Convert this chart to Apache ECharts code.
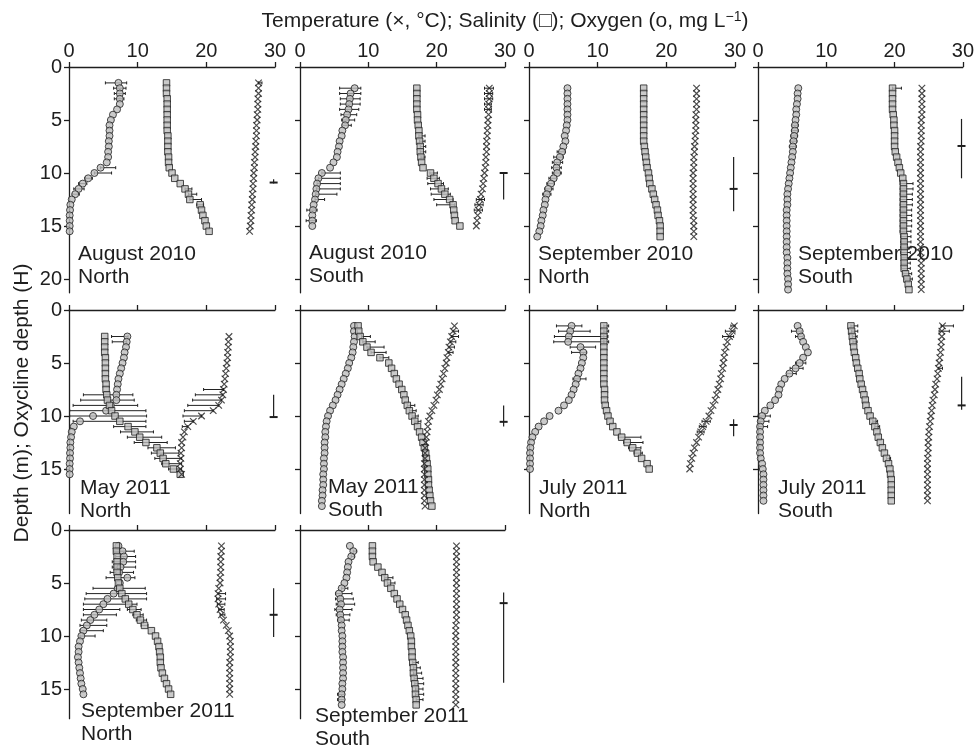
<!DOCTYPE html>
<html><head><meta charset="utf-8">
<script src="https://cdn.jsdelivr.net/npm/echarts@6/dist/echarts.min.js"></script>
<style>html,body{margin:0;padding:0;background:#fff}#c{width:977px;height:749px}</style>
</head><body><div id="c"></div>
<script>
// ---------- depth grids (m) ----------
const depth_15_155 = [1.5,2,2.5,3,3.5,4,4.5,5,5.5,6,6.5,7,7.5,8,8.5,9,9.5,10,10.5,11,11.5,12,12.5,13,13.5,14,14.5,15,15.5];
const depth_2_15 = [2,2.5,3,3.5,4,4.5,5,5.5,6,6.5,7,7.5,8,8.5,9,9.5,10,10.5,11,11.5,12,12.5,13,13.5,14,14.5,15];
const depth_2_16 = [2,2.5,3,3.5,4,4.5,5,5.5,6,6.5,7,7.5,8,8.5,9,9.5,10,10.5,11,11.5,12,12.5,13,13.5,14,14.5,15,15.5,16];
const depth_2_21 = [2,2.5,3,3.5,4,4.5,5,5.5,6,6.5,7,7.5,8,8.5,9,9.5,10,10.5,11,11.5,12,12.5,13,13.5,14,14.5,15,15.5,16,16.5,17,17.5,18,18.5,19,19.5,20,20.5,21];
const depth_25_155 = [2.5,3,3.5,4,4.5,5,5.5,6,6.5,7,7.5,8,8.5,9,9.5,10,10.5,11,11.5,12,12.5,13,13.5,14,14.5,15,15.5];
const depth_15_185 = [1.5,2,2.5,3,3.5,4,4.5,5,5.5,6,6.5,7,7.5,8,8.5,9,9.5,10,10.5,11,11.5,12,12.5,13,13.5,14,14.5,15,15.5,16,16.5,17,17.5,18,18.5];
const depth_15_15 = [1.5,2,2.5,3,3.5,4,4.5,5,5.5,6,6.5,7,7.5,8,8.5,9,9.5,10,10.5,11,11.5,12,12.5,13,13.5,14,14.5,15];
const depth_15_18 = [1.5,2,2.5,3,3.5,4,4.5,5,5.5,6,6.5,7,7.5,8,8.5,9,9.5,10,10.5,11,11.5,12,12.5,13,13.5,14,14.5,15,15.5,16,16.5,17,17.5,18];
const depth_15_165 = [1.5,2,2.5,3,3.5,4,4.5,5,5.5,6,6.5,7,7.5,8,8.5,9,9.5,10,10.5,11,11.5,12,12.5,13,13.5,14,14.5,15,15.5,16,16.5];

// ---------- Panel 1: August 2010 North ----------
const oxy1 = [7.2,7.4,7.4,7.4,7.4,7.0,6.4,6.1,5.9,5.9,5.9,5.8,5.8,5.7,5.7,5.5,4.6,3.7,2.8,2.0,1.4,0.9,0.4,0.2,0.15,0.1,0.1,0.1,0.1];
const sal1 = [14.2,14.2,14.2,14.3,14.3,14.3,14.3,14.3,14.3,14.3,14.4,14.4,14.4,14.4,14.5,14.5,14.6,15.0,15.4,16.2,16.9,17.4,17.6,19.1,19.3,19.5,19.8,20.0,20.4];
const tem1 = [27.6,27.6,27.6,27.5,27.5,27.5,27.4,27.4,27.3,27.3,27.3,27.2,27.2,27.1,27.1,27.0,27.0,26.9,26.9,26.8,26.8,26.7,26.7,26.6,26.6,26.5,26.5,26.4,26.3];
const err1 = [[1.5,5.3,8.4],[2,6.5,8.3],[2.5,6.6,8.2],[3,6.6,8.0],[9.5,4.6,6.8],[10,3.7,6.2],[10.5,2.3,3.4],[11,1.4,2.6],[11.5,0.7,2.2],[12,0.5,1.5],[11.5,16.9,17.9],[12,17.4,18.6],[12.5,17.6,19.3],[13,18.6,19.6],[1.5,27.6,28.1]];

// ---------- Panel 2: August 2010 South ----------
const oxy2 = [8.0,7.4,7.3,7.2,7.1,6.9,6.7,6.6,6.2,6.1,5.8,5.7,5.5,5.4,4.9,4.4,3.2,2.7,2.5,2.4,2.3,2.2,2.0,1.9,1.8,1.8,1.8];
const sal2 = [17.1,17.1,17.1,17.1,17.1,17.2,17.2,17.3,17.4,17.4,17.5,17.6,17.6,17.7,17.8,18.0,19.1,19.6,20.2,20.7,21.2,21.9,22.4,22.5,22.6,22.7,23.4];
const tem2 = [27.7,27.7,27.7,27.6,27.6,27.6,27.5,27.5,27.4,27.4,27.3,27.3,27.3,27.2,27.2,27.1,27.0,26.9,26.8,26.7,26.5,26.4,26.2,26.1,26.0,25.9,25.8];
const err2 = [[2,5.8,8.9],[2.5,5.8,8.9],[3,5.9,8.8],[3.5,5.9,8.8],[4,5.8,8.6],[4.5,6.0,8.3],[5,6.1,8.0],[5.5,6.2,7.5],[10,3.2,5.9],[10.5,2.7,5.9],[11,2.5,5.9],[11.5,2.4,5.9],[12,2.3,5.4],[12.5,2.2,3.6],[13.5,1.0,2.5],[14.5,0.9,2.4],[6.5,17.4,18.3],[7,17.5,18.3],[7.5,17.6,18.4],[8,17.6,18.4],[8.5,17.7,18.3],[10,19.0,20.1],[10.5,18.6,20.4],[11,18.7,21.0],[11.5,19.1,21.7],[12,19.2,22.0],[12.5,19.6,22.4],[13,20.0,22.6],[2,27.0,28.3],[2.5,27.0,28.2],[3,27.0,28.2],[3.5,27.0,28.0],[4,27.0,28.0],[12.5,25.8,27.0],[13,25.6,26.8],[13.5,25.5,26.7]];

// ---------- Panel 3: September 2010 North ----------
const oxy3 = [5.6,5.6,5.6,5.6,5.6,5.6,5.6,5.5,5.4,5.2,5.3,5.0,4.8,4.5,4.1,4.0,4.1,3.6,3.2,2.8,2.6,2.4,2.3,2.1,2.0,1.8,1.7,1.5,1.2];
const sal3 = [16.7,16.7,16.7,16.7,16.7,16.7,16.7,16.7,16.7,16.7,16.7,16.8,16.9,17.0,17.1,17.2,17.4,17.5,17.6,17.9,18.1,18.3,18.5,18.7,18.8,19.0,19.1,19.1,19.1];
const tem3 = [24.4,24.4,24.4,24.4,24.4,24.3,24.3,24.3,24.3,24.2,24.2,24.1,24.1,24.0,24.0,24.0,23.9,23.9,23.9,23.9,23.9,23.9,23.9,23.9,23.9,24.0,24.0,24.0,24.0];
const err3 = [[8,4.1,5.3],[8.5,3.6,5.0],[9,3.4,4.9],[9.5,3.3,4.7],[10,3.4,4.7],[10.5,2.9,4.0],[11,2.6,3.7],[11.5,2.3,3.5],[12,2.0,3.2]];

// ---------- Panel 4: September 2010 South ----------
const oxy4 = [5.9,5.8,5.8,5.7,5.6,5.6,5.5,5.4,5.4,5.3,5.2,5.1,5.1,5.0,4.9,4.8,4.7,4.6,4.5,4.4,4.3,4.3,4.3,4.2,4.2,4.2,4.2,4.2,4.2,4.2,4.2,4.2,4.3,4.3,4.3,4.3,4.4,4.4,4.4];
const sal4 = [19.7,19.7,19.7,19.7,19.7,19.8,19.9,19.9,20.0,20.0,20.0,20.0,20.1,20.3,20.5,20.7,20.9,21.2,21.3,21.3,21.3,21.3,21.3,21.3,21.3,21.3,21.3,21.3,21.4,21.4,21.4,21.4,21.4,21.4,21.4,21.6,21.8,22.0,22.1];
const tem4 = [24.0,24.0,24.0,24.0,24.0,24.0,23.9,23.9,23.9,23.9,23.9,23.8,23.8,23.8,23.8,23.8,23.8,23.8,23.8,23.8,23.8,23.8,23.8,23.8,23.8,23.8,23.8,23.8,23.8,23.8,23.8,23.8,23.9,23.9,23.9,23.9,23.9,23.9,23.9];
const err4 = [[2,19.7,21.0],[11,20.8,22.7],[11.5,20.8,22.7],[12,20.8,22.6],[12.5,20.8,22.6],[13,20.8,22.6],[13.5,20.8,22.5],[14,20.8,22.5],[14.5,20.8,22.5],[15,20.8,22.5],[15.5,20.8,22.4],[16,20.9,22.4],[16.5,20.9,22.4],[17,20.9,22.4],[17.5,20.9,22.3],[18,21.0,22.3],[18.5,21.0,22.3],[19,21.0,22.3],[19.5,21.2,22.5],[20,21.4,22.6],[5.5,5.0,5.9],[6,4.9,5.9],[6.5,4.8,5.8],[7,4.7,5.7],[7.5,4.6,5.6]];

// ---------- Panel 5: May 2011 North ----------
const oxy5 = [8.5,8.4,8.3,8.1,8.0,7.8,7.6,7.4,7.2,7.1,7.0,6.9,6.9,6.1,5.4,3.5,1.6,0.7,0.4,0.3,0.2,0.2,0.15,0.15,0.1,0.1,0.1];
const sal5 = [5.2,5.2,5.2,5.2,5.3,5.3,5.3,5.3,5.3,5.4,5.4,5.5,5.6,5.9,6.2,6.7,7.4,8.6,9.6,10.3,11.2,12.8,13.3,13.7,14.1,15.2,16.2];
const tem5 = [23.3,23.2,23.2,23.1,23.1,23.0,22.9,22.8,22.7,22.6,22.5,22.4,22.2,21.8,21.0,19.3,18.1,17.3,16.8,16.6,16.4,16.4,16.3,16.3,16.2,16.2,16.4];
const err5 = [[2.5,6.2,8.6],[3,6.3,8.4],[8,2.1,9.3],[8.5,1.7,9.5],[9,0.6,10.0],[9.5,0.1,11.2],[10,0.1,11.3],[10.5,0.6,11.2],[11,6.5,11.2],[11.5,7.5,12.3],[12,8.5,13.5],[12.5,9.5,14.3],[13,11.5,15.5],[13.5,12.0,16.0],[14,12.5,16.4],[14.5,13.5,16.4],[15,14.5,16.4],[7.5,19.6,22.5],[8,18.4,22.4],[8.5,18.0,22.2],[9,17.3,21.8],[9.5,16.8,21.0],[10,16.6,19.3],[10.5,16.8,18.1],[11,16.5,17.3]];

// ---------- Panel 6: May 2011 South ----------
const oxy6 = [7.9,7.9,8.0,7.9,7.8,7.7,7.5,7.2,7.0,6.7,6.4,6.1,5.8,5.5,5.2,4.8,4.4,4.1,3.9,3.8,3.7,3.7,3.6,3.6,3.6,3.5,3.5,3.5,3.4,3.4,3.4,3.3,3.3,3.2,3.2];
const sal6 = [8.5,8.6,8.8,9.2,9.8,10.4,11.7,13.0,13.4,13.8,14.1,14.5,14.9,15.2,15.4,15.7,16.0,16.4,16.8,17.2,17.5,17.8,18.0,18.2,18.4,18.5,18.6,18.7,18.7,18.8,18.8,18.9,19.0,19.1,19.3];
const tem6 = [22.6,22.4,22.2,22.0,21.8,21.7,21.5,21.4,21.2,21.0,20.8,20.6,20.4,20.1,19.9,19.6,19.3,19.0,18.8,18.7,18.6,18.5,18.4,18.3,18.3,18.3,18.2,18.2,18.2,18.2,18.2,18.2,18.2,18.2,18.3];
const err6 = [[2.5,9.0,10.3],[3,9.2,11.0],[3.5,9.8,12.3],[4,10.4,12.6],[4.5,11.7,13.0],[9,15.7,16.8],[9.5,16.0,17.0],[10,16.4,17.3],[10.5,16.8,17.7],[2,22.4,23.2],[2.5,22.2,23.2],[3,22.0,22.8],[3.5,21.8,22.6],[4,21.7,22.4]];

// ---------- Panel 7: July 2011 North ----------
const oxy7 = [6.2,6.0,5.8,5.7,7.5,7.9,7.9,7.7,7.5,7.2,7.0,6.8,6.5,6.2,5.8,5.1,4.3,3.0,2.2,1.4,0.9,0.5,0.3,0.2,0.15,0.15,0.15,0.15];
const sal7 = [10.9,10.9,10.9,10.9,10.9,10.9,10.9,10.9,10.9,10.9,10.9,10.9,11.0,11.0,11.0,11.1,11.3,11.5,11.8,12.2,12.8,13.5,14.3,15.1,15.8,16.4,17.2,17.5];
const tem7 = [29.9,29.6,29.2,28.9,28.7,28.5,28.4,28.3,28.2,28.0,27.9,27.7,27.5,27.3,27.1,26.8,26.5,26.2,25.8,25.3,25.0,24.7,24.4,24.1,23.9,23.7,23.5,23.4];
const err7 = [[1.5,4.0,7.7],[2,4.3,8.9],[2.5,3.7,11.4],[3,3.6,10.9],[3.5,6.0,9.7],[4,6.2,8.4],[6.5,6.4,8.3],[1.5,10.9,11.6],[2,10.9,11.6],[2.5,10.9,11.5],[3,10.9,11.6],[12,13.0,16.3],[12.5,13.8,16.6],[13,14.5,16.3],[13.5,15.3,16.5],[1.5,29.4,30.0],[2,28.6,30.0],[2.5,28.2,29.8],[10.5,25.2,26.4],[11,24.8,25.8],[11.5,24.5,25.5]];

// ---------- Panel 8: July 2011 South ----------
const oxy8 = [5.8,6.1,6.3,6.6,7.0,7.3,6.6,6.1,5.5,4.6,3.9,3.4,3.1,3.0,2.5,1.8,1.0,0.6,0.4,0.3,0.3,0.3,0.3,0.3,0.3,0.4,0.6,0.7,0.8,0.8,0.8,0.8,0.8,0.8];
const sal8 = [13.6,13.7,13.8,13.9,14.0,14.1,14.3,14.4,14.6,14.8,14.9,15.1,15.3,15.5,15.7,15.8,16.1,16.4,16.8,17.1,17.4,17.6,17.9,18.2,18.5,18.8,19.1,19.3,19.4,19.5,19.5,19.5,19.5,19.5];
const tem8 = [27.0,26.9,26.9,26.8,26.8,26.7,26.6,26.5,26.4,26.3,26.2,26.0,25.9,25.8,25.6,25.5,25.4,25.3,25.2,25.1,25.0,25.0,24.9,24.9,24.9,24.8,24.8,24.8,24.8,24.8,24.8,24.8,24.8,24.8];
const err8 = [[2,4.9,6.4],[2.5,5.5,6.6],[5,5.5,7.0],[5.5,4.7,6.6],[6,4.2,5.6],[10,0.0,1.8],[10.5,0.0,1.6],[11,0.0,1.4],[1.5,13.6,14.6],[2,13.7,14.6],[2.5,13.8,14.5],[3,13.9,14.5],[10.5,16.8,17.5],[11,17.1,17.8],[14,18.8,19.4],[1.5,26.8,28.6],[2,26.5,28.0],[5.5,26.4,27.0]];

// ---------- Panel 9: September 2011 North ----------
const oxy9 = [7.2,7.8,8.0,7.9,7.5,7.3,8.5,7.4,7.1,6.5,5.6,5.0,4.4,3.7,3.1,2.6,2.1,1.8,1.6,1.4,1.4,1.3,1.4,1.5,1.6,1.7,1.8,2.0,2.1];
const sal9 = [6.9,6.9,7.0,7.0,7.0,7.0,7.1,7.2,7.4,7.7,8.2,8.7,9.3,9.9,10.4,11.0,12.0,12.6,12.9,13.1,13.2,13.3,13.3,13.4,13.6,13.9,14.2,14.5,14.8];
const tem9 = [22.2,22.2,22.1,22.1,22.1,22.1,22.0,22.0,21.8,21.7,21.7,21.8,22.0,22.2,22.5,22.9,23.2,23.4,23.5,23.5,23.5,23.5,23.4,23.4,23.4,23.4,23.4,23.4,23.4];
const err9 = [[2,6.5,9.5],[2.5,6.8,9.7],[3,6.3,9.7],[3.5,6.3,9.7],[4,6.0,9.4],[4.5,5.4,9.6],[5.5,3.5,11.1],[6,2.5,11.3],[6.5,2.3,11.3],[7,2.1,9.9],[7.5,2.1,7.4],[8,2.1,6.9],[8.5,1.8,5.5],[9,1.6,5.5],[9.5,1.6,5.0],[10,1.6,3.8],[7.5,8.5,10.5],[8,9.3,10.8],[8.5,9.8,11.3],[9,10.5,11.5],[6,21.7,22.8],[6.5,21.5,22.8],[7,21.6,22.7],[7.5,21.8,22.6],[8,22.0,22.7]];

// ---------- Panel 10: September 2011 South ----------
const oxy10 = [7.3,7.8,7.5,7.1,7.0,6.9,6.8,6.5,6.1,5.7,5.9,6.0,5.8,5.9,6.0,6.1,6.1,6.2,6.2,6.2,6.2,6.3,6.3,6.3,6.3,6.3,6.2,6.2,6.1,6.1,6.1];
const sal10 = [10.6,10.6,10.6,10.7,11.4,12.0,12.4,12.8,13.3,13.8,14.2,14.6,15.0,15.4,15.6,15.8,16.0,16.2,16.3,16.3,16.4,16.4,16.5,16.6,16.6,16.7,16.8,16.9,16.9,17.0,17.0];
const tem10 = [22.9,22.9,22.9,22.9,22.9,22.9,22.9,22.9,22.9,22.9,22.9,22.9,22.9,22.9,22.9,22.8,22.8,22.8,22.8,22.8,22.8,22.8,22.8,22.8,22.8,22.8,22.8,22.8,22.8,22.8,22.8];
const err10 = [[2,7.8,8.3],[2.5,7.5,8.0],[5.5,6.1,7.0],[6,5.2,7.6],[6.5,5.2,7.8],[7,5.3,8.0],[7.5,5.1,7.6],[8,5.3,7.3],[8.5,5.5,7.2],[15.5,5.5,6.5],[16,5.5,6.5],[4.5,12.4,13.6],[5,12.8,13.9],[12.5,16.5,17.3],[13,16.6,17.6],[13.5,16.6,17.8],[14,16.7,18.0],[14.5,16.8,18.1],[15,16.9,18.0],[15.5,16.9,18.1],[16,17.0,18.0]];

// ---------- Oxycline depth: [mean, low, high] (m) per panel ----------
const oxycline = [[10.9,10.6,11.0],[10.0,10.0,12.5],[11.5,8.5,13.6],[7.45,4.9,10.5],[10.1,8.0,10.1],[10.55,9.0,11.0],[10.85,10.3,11.9],[9.0,6.3,9.4],[8.0,5.5,10.1],[6.9,5.9,14.4]];

const panelMonths = ['August 2010','August 2010','September 2010','September 2010','May 2011','May 2011','July 2011','July 2011','September 2011','September 2011'];
const panelRegions = ['North','South','North','South','North','South','North','South','North','South'];
const xTicks = [0,10,20,30];
const depthTicks = [0,5,10,15,20];

const panels = [
  [depth_15_155, oxy1, sal1, tem1, err1],
  [depth_2_15, oxy2, sal2, tem2, err2],
  [depth_2_16, oxy3, sal3, tem3, err3],
  [depth_2_21, oxy4, sal4, tem4, err4],
  [depth_25_155, oxy5, sal5, tem5, err5],
  [depth_15_185, oxy6, sal6, tem6, err6],
  [depth_15_15, oxy7, sal7, tem7, err7],
  [depth_15_18, oxy8, sal8, tem8, err8],
  [depth_15_155, oxy9, sal9, tem9, err9],
  [depth_15_165, oxy10, sal10, tem10, err10]
];

// ---------- layout ----------
const colLeft = [69, 300, 529, 758], colWidth = [206, 205, 206, 205];
const rowTop = [67, 310, 530], rowMax = [21.3, 19.2, 17.8], pxPerM = 10.6;
const labelPos = [[78,261],[309,260],[538,261],[798,261],[80,495],[328,494],[539,495],[778,495],[81,718],[315,723]];
const FONT = '"Liberation Sans", Arial, sans-serif';
const INK = '#1e1e1e';
const oxyX = 29.8;

const grids = [], xAxes = [], yAxes = [], series = [], graphics = [];
const lineStyle = {color: INK, width: 1.3};

panels.forEach((p, i) => {
  const row = Math.floor(i / 4), col = i % 4;
  const [dep, ox, sa, te, er] = p;
  grids.push({left: colLeft[col], top: rowTop[row], width: colWidth[col], height: rowMax[row] * pxPerM, containLabel: false});
  xAxes.push({
    gridIndex: i, type: 'value', min: 0, max: 30, interval: 10, position: 'top',
    axisLine: {show: true, onZero: false, lineStyle},
    axisTick: {show: true, inside: false, length: 5, lineStyle, customValues: xTicks},
    axisLabel: {show: row === 0, customValues: xTicks, fontSize: 20, fontFamily: FONT, color: INK, margin: 6},
    splitLine: {show: false}
  });
  const yt = depthTicks.filter(v => v <= rowMax[row]);
  yAxes.push({
    gridIndex: i, type: 'value', inverse: true, min: 0, max: rowMax[row],
    axisLine: {show: true, onZero: false, lineStyle},
    axisTick: {show: true, inside: false, length: 5, lineStyle, customValues: yt},
    axisLabel: {show: col === 0, customValues: yt, fontSize: 20, fontFamily: FONT, color: INK, margin: 7},
    splitLine: {show: false}
  });
  // error bars
  series.push({
    type: 'custom', xAxisIndex: i, yAxisIndex: i, z: 1, silent: true,
    encode: {x: [1, 2], y: 0},
    data: er,
    renderItem: (params, api) => {
      const d = api.value(0), lo = api.value(1), hi = api.value(2);
      const a = api.coord([lo, d]), b = api.coord([hi, d]);
      const cs = params.coordSys;
      const x1 = Math.max(cs.x, a[0]), x2 = Math.min(cs.x + cs.width, b[0]);
      const y = a[1];
      const st = {stroke: '#222', lineWidth: 1};
      const ch = [{type: 'line', shape: {x1, y1: y, x2, y2: y}, style: st}];
      if (a[0] >= cs.x) ch.push({type: 'line', shape: {x1: a[0], y1: y - 1.5, x2: a[0], y2: y + 1.5}, style: st});
      if (b[0] <= cs.x + cs.width) ch.push({type: 'line', shape: {x1: b[0], y1: y - 1.5, x2: b[0], y2: y + 1.5}, style: st});
      return {type: 'group', children: ch};
    }
  });
  const mk = {color: '#bdbdbd', borderColor: '#1f1f1f', borderWidth: 1};
  series.push({type: 'scatter', xAxisIndex: i, yAxisIndex: i, z: 3, silent: true, symbol: 'circle', symbolSize: 7,
    itemStyle: mk, data: dep.map((d, j) => [ox[j], d])});
  series.push({type: 'scatter', xAxisIndex: i, yAxisIndex: i, z: 3, silent: true, symbol: 'rect', symbolSize: 6.5,
    itemStyle: mk, data: dep.map((d, j) => [sa[j], d])});
  series.push({type: 'scatter', xAxisIndex: i, yAxisIndex: i, z: 3, silent: true,
    symbol: 'path://M0,0L10,10M10,0L0,10', symbolSize: 6.5,
    itemStyle: {color: 'rgba(0,0,0,0)', borderColor: '#1f1f1f', borderWidth: 1.2},
    data: dep.map((d, j) => [te[j], d])});
  // oxycline depth
  series.push({
    type: 'custom', xAxisIndex: i, yAxisIndex: i, z: 4, silent: true,
    encode: {y: [0, 1, 2]},
    data: [oxycline[i]],
    renderItem: (params, api) => {
      const m = api.coord([oxyX, api.value(0)]), a = api.coord([oxyX, api.value(1)]), b = api.coord([oxyX, api.value(2)]);
      return {type: 'group', children: [
        {type: 'line', shape: {x1: a[0], y1: a[1], x2: b[0], y2: b[1]}, style: {stroke: INK, lineWidth: 1.2}},
        {type: 'line', shape: {x1: m[0] - 4, y1: m[1], x2: m[0] + 4, y2: m[1]}, style: {stroke: INK, lineWidth: 2}}
      ]};
    }
  });
  // panel labels
  const [lx, ly] = labelPos[i];
  graphics.push({type: 'text', x: lx, y: ly - 7, z: 10, style: {text: panelMonths[i], fontSize: 21, fontFamily: FONT, fill: INK, align: 'left', verticalAlign: 'middle'}});
  graphics.push({type: 'text', x: lx, y: ly + 23 - 7, z: 10, style: {text: panelRegions[i], fontSize: 21, fontFamily: FONT, fill: INK, align: 'left', verticalAlign: 'middle'}});
});

graphics.push({type: 'text', x: 505, y: 21, z: 10, style: {
  text: 'Temperature (×, °C); Salinity (□); Oxygen (o, mg L{sup|−1})',
  fontSize: 21, fontFamily: FONT, fill: INK, align: 'center', verticalAlign: 'middle',
  rich: {sup: {fontSize: 14, fontFamily: FONT, fill: INK, verticalAlign: 'top', padding: [0, 0, 8, 0]}}
}});
graphics.push({type: 'text', x: 22, y: 403, rotation: Math.PI / 2, z: 10, style: {
  text: 'Depth (m); Oxycline depth (H)', fontSize: 21, fontFamily: FONT, fill: INK, align: 'center', verticalAlign: 'middle'
}});

const chart = echarts.init(document.getElementById('c'), null, {renderer: 'canvas'});
chart.setOption({
  animation: false,
  backgroundColor: '#fff',
  grid: grids, xAxis: xAxes, yAxis: yAxes, series, graphic: graphics
});
</script></body></html>
